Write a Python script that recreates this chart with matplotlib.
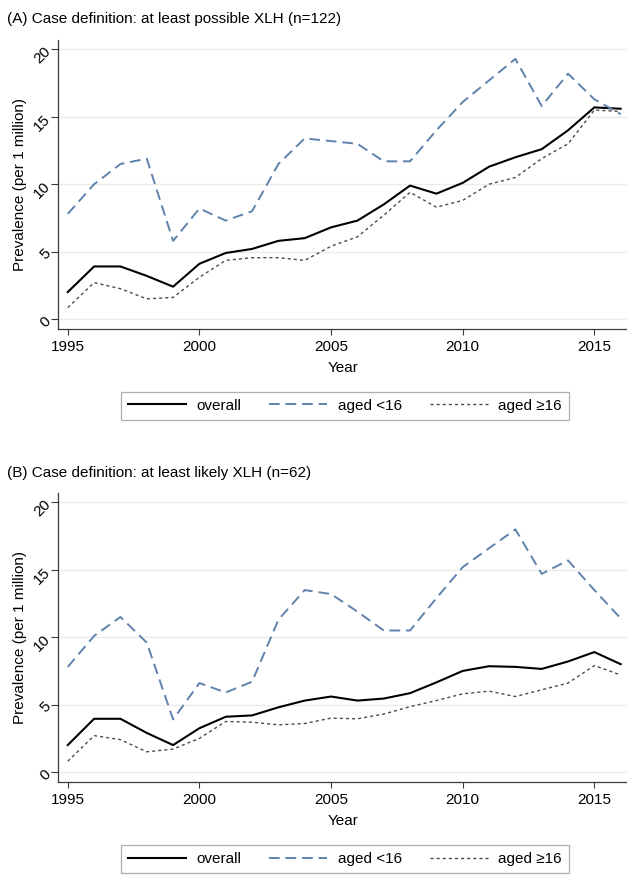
import matplotlib
matplotlib.use("Agg")
import matplotlib.pyplot as plt
from matplotlib.lines import Line2D

plt.rcParams["font.family"] = ["Liberation Sans", "DejaVu Sans"]

years = list(range(1995, 2017))

# Panel A: at least possible XLH
a_overall = [2.0, 3.9, 3.9, 3.2, 2.4, 4.1, 4.9, 5.2, 5.8, 6.0, 6.8,
             7.3, 8.5, 9.9, 9.3, 10.1, 11.3, 12.0, 12.6, 14.0, 15.7, 15.6]
a_under16 = [7.8, 10.0, 11.5, 11.9, 5.8, 8.2, 7.3, 8.0, 11.5, 13.4, 13.2,
             13.0, 11.7, 11.7, 14.0, 16.1, 17.7, 19.3, 15.8, 18.2, 16.3, 15.2]
a_16plus = [0.85, 2.7, 2.25, 1.5, 1.6, 3.1, 4.35, 4.55, 4.55, 4.35, 5.4,
            6.1, 7.7, 9.4, 8.3, 8.8, 10.0, 10.5, 11.9, 13.0, 15.5, 15.4]

# Panel B: at least likely XLH
b_overall = [2.0, 3.95, 3.95, 2.9, 2.0, 3.25, 4.1, 4.2, 4.8, 5.3, 5.6,
             5.3, 5.45, 5.85, 6.65, 7.5, 7.85, 7.8, 7.65, 8.2, 8.9, 8.0]
b_under16 = [7.8, 10.1, 11.5, 9.6, 3.9, 6.6, 5.9, 6.7, 11.3, 13.5, 13.2,
             11.9, 10.5, 10.5, 12.9, 15.2, 16.6, 18.0, 14.7, 15.7, 13.5, 11.4]
b_16plus = [0.8, 2.7, 2.4, 1.5, 1.7, 2.5, 3.75, 3.7, 3.5, 3.6, 4.0,
            3.95, 4.3, 4.85, 5.3, 5.8, 6.0, 5.6, 6.1, 6.6, 7.9, 7.2]

titles = ["(A) Case definition: at least possible XLH (n=122)",
          "(B) Case definition: at least likely XLH (n=62)"]
series_labels = ["overall", "aged <16", "aged \u226516"]
x_ticks = [1995, 2000, 2005, 2010, 2015]
y_ticks = [0, 5, 10, 15, 20]

W, H = 627, 875
fig = plt.figure(figsize=(W / 100, H / 100), dpi=100)
fig.patch.set_facecolor("white")

styles = [
    dict(color="black", lw=1.5, ls="-"),
    dict(color="#5f82ad", lw=1.4, ls=(0, (5.5, 3.0))),
    dict(color="#4a4a4a", lw=1.0, ls=(0, (2.2, 2.2))),
]

panels = [
    (a_overall, a_under16, a_16plus, 40, 329, 19.5, 405.8),
    (b_overall, b_under16, b_16plus, 493, 782, 473.5, 859.0),
]

left_px = 58.3
for i, (ov, yg, ol, top, bot, title_y, leg_y) in enumerate(panels):
    ax = fig.add_axes([left_px / W, (H - bot) / H, (W - left_px) / W, (bot - top) / H])
    for data, st in zip([ov, yg, ol], styles):
        ax.plot(years, data, **st)
    ax.set_xlim(1994.64, 2016.24)
    ax.set_ylim(-0.74, 20.7)
    ax.set_xticks(x_ticks)
    ax.set_yticks(y_ticks)
    ax.grid(axis="y", color="#ebebeb", lw=1.0)
    ax.set_axisbelow(True)
    for s in ["top", "right"]:
        ax.spines[s].set_visible(False)
    for s in ["left", "bottom"]:
        ax.spines[s].set_color("#3a3a3a")
        ax.spines[s].set_linewidth(0.9)
    ax.tick_params(axis="x", length=4.5, width=0.8, color="#3a3a3a",
                   pad=3.2, labelsize=11)
    ax.tick_params(axis="y", length=5, width=0.8, color="#3a3a3a",
                   pad=2.2, labelsize=11)
    for lbl in ax.get_yticklabels():
        lbl.set_rotation(45)
        lbl.set_rotation_mode("anchor")
        lbl.set_ha("right")
        lbl.set_va("center")
    ax.set_xlabel("Year", fontsize=11, labelpad=5)
    ax.set_ylabel("Prevalence (per 1 million)", fontsize=11, labelpad=3)
    fig.text(7 / W, 1 - title_y / H, titles[i], fontsize=11, ha="left", va="center")

    handles = [Line2D([], [], **st) for st in styles]
    leg = fig.legend(handles, series_labels, loc="center",
                     bbox_to_anchor=(345 / W, 1 - leg_y / H), ncol=3,
                     frameon=True, fancybox=False, edgecolor="#9a9a9a",
                     fontsize=11, handlelength=3.8, handletextpad=0.7,
                     columnspacing=1.8, borderpad=0.45)
    leg.get_frame().set_linewidth(0.9)

fig.savefig("out.png", dpi=100)
